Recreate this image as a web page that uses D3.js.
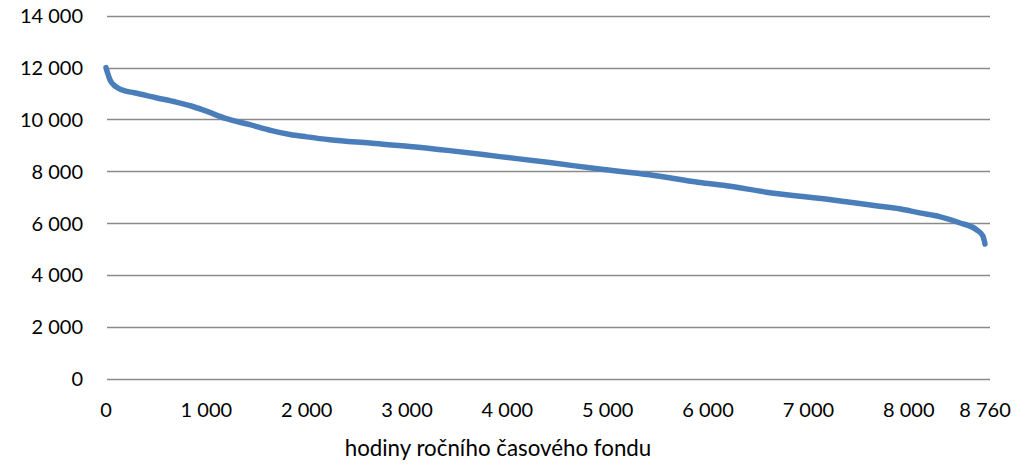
<!DOCTYPE html>
<html>
<head>
<meta charset="utf-8">
<script src="https://cdn.jsdelivr.net/npm/d3@7"></script>
<style>
html,body{margin:0;padding:0;background:#fff;}
svg{display:block;font-family:Lato,"Open Sans",sans-serif;}
</style>
</head>
<body>
<svg id="chart" width="1036" height="468"></svg>
<script>
// Duration curve: hours of the annual time fund vs load
const hours = [0, 15, 40, 80, 125, 180, 280, 500, 700, 850, 1000, 1200, 1434, 1650, 1833, 2000, 2231, 2630, 3028, 3426, 3924, 4422, 4920, 5418, 5916, 6182, 6580, 7243, 7709, 7908, 8108, 8307, 8506, 8672, 8738, 8760];
const values = [12000, 11800, 11530, 11320, 11200, 11110, 11030, 10840, 10670, 10520, 10320, 10030, 9800, 9570, 9420, 9330, 9220, 9090, 8960, 8800, 8570, 8340, 8090, 7870, 7570, 7450, 7200, 6900, 6660, 6560, 6400, 6260, 6020, 5760, 5520, 5200];
const xTicks = [0, 1000, 2000, 3000, 4000, 5000, 6000, 7000, 8000, 8760];
const yTicks = [0, 2000, 4000, 6000, 8000, 10000, 12000, 14000];
const xTitle = "hodiny ročního časového fondu";

const svg = d3.select("#chart");
const x = d3.scaleLinear().domain([0, 8760]).range([106, 985]);
const y = d3.scaleLinear().domain([0, 14000]).range([379, 15.7]);
const gridRight = 990;
const fmt = v => d3.format(",")(v).replace(/,/g, " ");

// gridlines
svg.append("g").selectAll("line").data(yTicks).join("line")
  .attr("x1", x(0)+1).attr("x2", gridRight)
  .attr("y1", d => Math.round(y(d)) + 0.5).attr("y2", d => Math.round(y(d)) + 0.5)
  .attr("stroke", "#8a8a8a").attr("stroke-width", 1.3);

// y labels
svg.append("g").selectAll("text").data(yTicks).join("text")
  .attr("x", 83).attr("y", d => y(d)).attr("dy", "0.36em")
  .attr("text-anchor", "end").attr("font-size", 20).attr("fill", "#000")
  .text(fmt);

// x labels
svg.append("g").selectAll("text").data(xTicks).join("text")
  .attr("x", d => x(d)).attr("y", 417)
  .attr("text-anchor", "middle").attr("font-size", 20).attr("fill", "#000")
  .text(fmt);

// x title
svg.append("text").attr("x", 498).attr("y", 456)
  .attr("text-anchor", "middle").attr("font-size", 22.3).attr("fill", "#000")
  .text(xTitle);

// line
const pts = hours.map((h, i) => [h, values[i]]);
const line = d3.line().x(d => x(d[0])).y(d => y(d[1])).curve(d3.curveMonotoneX);
svg.append("path").datum(pts).attr("d", line)
  .attr("fill", "none").attr("stroke", "#4a7ebb").attr("stroke-width", 5.5)
  .attr("stroke-linecap", "round").attr("stroke-linejoin", "round");
</script>
</body>
</html>
